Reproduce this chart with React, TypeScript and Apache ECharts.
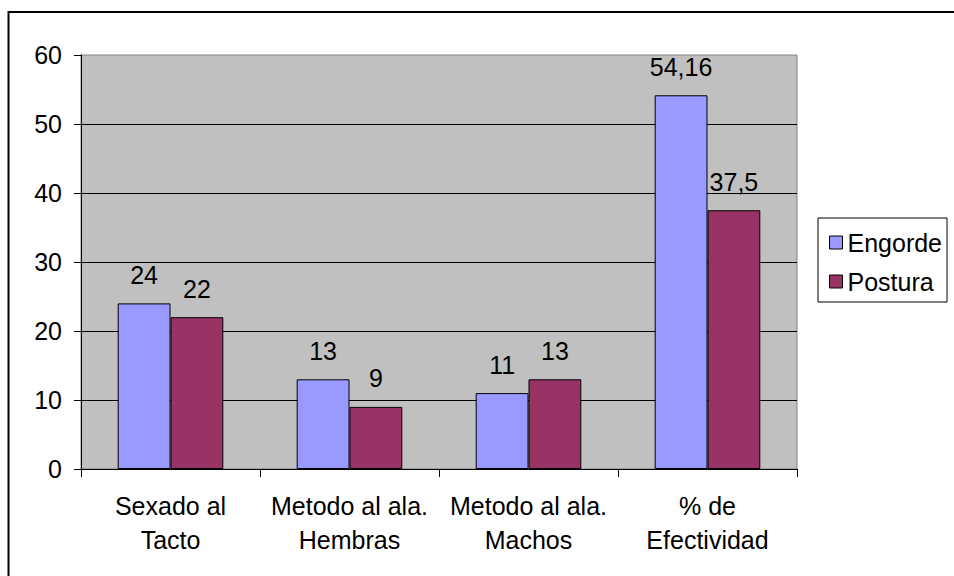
import React, { useEffect, useRef } from "react";
import * as echarts from "echarts";

const categories = [
  "Sexado al\nTacto",
  "Metodo al ala.\nHembras",
  "Metodo al ala.\nMachos",
  "% de\nEfectividad",
];
const engorde = [24, 13, 11, 54.16];
const postura = [22, 9, 13, 37.5];
const yTicks = { min: 0, max: 60, interval: 10 };

const FONT = "Liberation Sans, Arial, sans-serif";
const FS = 25;

const fmt = (v: number) => String(v).replace(".", ",");

export default function App() {
  const ref = useRef<HTMLDivElement>(null);

  useEffect(() => {
    if (!ref.current) return;
    const chart = echarts.init(ref.current, undefined, { renderer: "svg" });
    const label = {
      show: true,
      position: "top" as const,
      distance: 16,
      color: "#000",
      fontSize: FS,
      fontFamily: FONT,
      formatter: (p: any) => fmt(p.value),
    };
    chart.setOption({
      animation: false,
      backgroundColor: "#fff",
      textStyle: { fontFamily: FONT },
      graphic: [
        {
          type: "rect",
          shape: { x: 8.5, y: 12, width: 1000, height: 1000 },
          style: { fill: "none", stroke: "#000", lineWidth: 2 },
          silent: true,
        },
      ],
      grid: {
        left: 81,
        top: 55,
        width: 716,
        height: 414,
        show: true,
        backgroundColor: "#C0C0C0",
        borderColor: "#808080",
        borderWidth: 1,
      },
      legend: {
        orient: "vertical",
        left: 818,
        top: 218,
        padding: [12, 5, 8, 11],
        itemGap: 14,
        itemWidth: 13,
        itemHeight: 13,
        backgroundColor: "#fff",
        borderColor: "#000",
        borderWidth: 1,
        textStyle: { fontSize: FS, fontFamily: FONT, color: "#000" },
        itemStyle: { borderColor: "#000", borderWidth: 1 },
        data: [
          { name: "Engorde", icon: "rect" },
          { name: "Postura", icon: "rect" },
        ],
      },
      xAxis: {
        type: "category",
        data: categories,
        boundaryGap: true,
        axisLine: { show: true, lineStyle: { color: "#000", width: 1 } },
        axisTick: { show: true, length: 8, alignWithLabel: false, lineStyle: { color: "#000" } },
        axisLabel: {
          interval: 0,
          margin: 20,
          fontSize: FS,
          lineHeight: 34,
          color: "#000",
          fontFamily: FONT,
        },
        splitLine: { show: false },
      },
      yAxis: {
        type: "value",
        min: yTicks.min,
        max: yTicks.max,
        interval: yTicks.interval,
        axisLine: { show: true, lineStyle: { color: "#000", width: 1 } },
        axisTick: { show: true, length: 7, lineStyle: { color: "#000" } },
        axisLabel: { margin: 19, fontSize: FS, color: "#000", fontFamily: FONT },
        splitLine: {
          show: true,
          showMaxLine: false,
          showMinLine: false,
          lineStyle: { color: "#000", width: 1 },
        },
      },
      series: [
        {
          name: "Engorde",
          type: "bar",
          data: engorde,
          barGap: "0%",
          barCategoryGap: "41%",
          itemStyle: { color: "#9999FF", borderColor: "#000", borderWidth: 1 },
          label,
        },
        {
          name: "Postura",
          type: "bar",
          data: postura,
          barGap: "0%",
          barCategoryGap: "41%",
          itemStyle: { color: "#993366", borderColor: "#000", borderWidth: 1 },
          label,
        },
      ],
    });
    return () => chart.dispose();
  }, []);

  return (
    <div
      ref={ref}
      style={{ position: "fixed", left: 0, top: 0, width: 954, height: 576 }}
    />
  );
}
